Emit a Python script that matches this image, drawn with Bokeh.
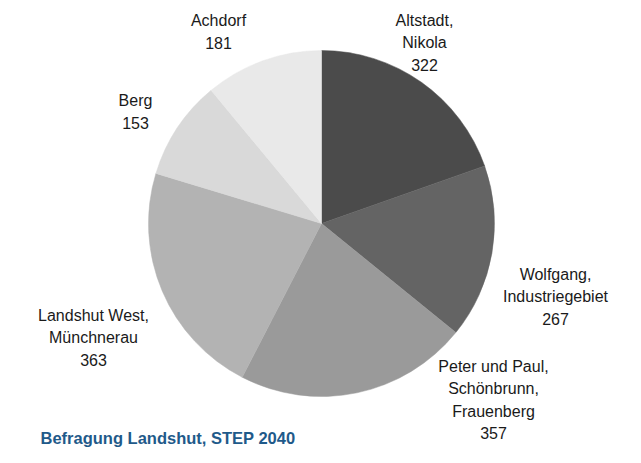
import math
from bokeh.plotting import figure
from bokeh.models import Range1d, ColumnDataSource
from bokeh.core.properties import value
from bokeh.embed import file_html
from bokeh.resources import INLINE

# ---- data ----
districts = ["Altstadt,\nNikola", "Wolfgang,\nIndustriegebiet",
             "Peter und Paul,\nSchönbrunn,\nFrauenberg",
             "Landshut West,\nMünchnerau", "Berg", "Achdorf"]
counts = [322, 267, 357, 363, 153, 181]
title_text = "Befragung Landshut, STEP 2040"

# ---- styles / layout ----
colors = ["#4b4b4b", "#646464", "#9a9a9a", "#b3b3b3", "#d9d9d9", "#e9e9e9"]
W, H = 625, 447
cx, cy_px, radius = 321, 223, 173
label_anchor = [(424, 20), (555, 274), (493, 366), (93, 315), (135, 100), (218, 20)]
line_h = 22.3
FONT = "Liberation Sans"

def py(y):
    return H - y

p = figure(width=W, height=H, output_backend="svg", toolbar_location=None,
           x_range=Range1d(0, W), y_range=Range1d(0, H),
           min_border=0, outline_line_color=None)
p.axis.visible = False
p.grid.visible = False
p.background_fill_color = "white"
p.border_fill_color = "white"

total = sum(counts)
starts, ends = [], []
cum = 0
for c in counts:
    starts.append(math.pi / 2 - 2 * math.pi * cum / total)
    cum += c
    ends.append(math.pi / 2 - 2 * math.pi * cum / total)

src = ColumnDataSource(dict(start=starts, end=ends, color=colors))
p.wedge(x=cx, y=py(cy_px), radius=radius, radius_units="screen",
        start_angle="start", end_angle="end", direction="clock",
        fill_color="color", line_color="color", line_width=0.5, source=src)

tx, ty, tt = [], [], []
for name, val, (ax, ay) in zip(districts, counts, label_anchor):
    lines = name.split("\n") + [str(val)]
    for i, ln in enumerate(lines):
        tx.append(ax)
        ty.append(py(ay + i * line_h))
        tt.append(ln)

p.text(x=tx, y=ty, text=tt, text_font=value(FONT), text_font_size="16px",
       text_color="#1a1a1a", text_align="center", text_baseline="middle")

p.text(x=[40], y=[py(437)], text=[title_text], text_font=value(FONT),
       text_font_size="16.5px", text_font_style="bold", text_color="#1f5a8a",
       text_align="left", text_baseline="middle")

open("out.html", "w").write(file_html(p, INLINE))
